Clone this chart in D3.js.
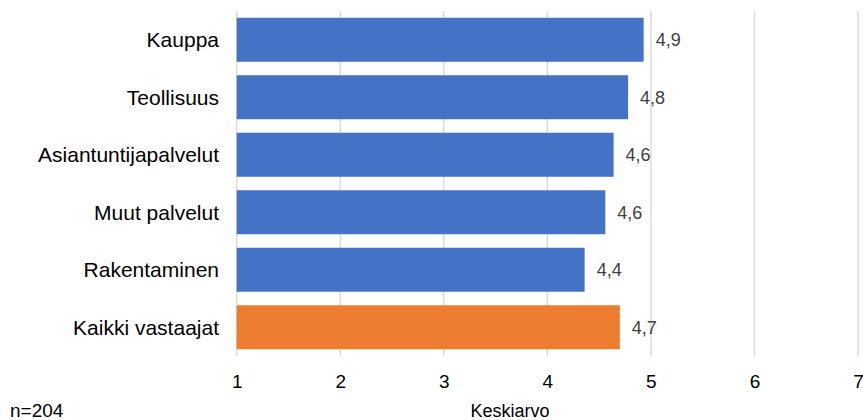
<!DOCTYPE html>
<html>
<head>
<meta charset="utf-8">
<script src="https://cdn.jsdelivr.net/npm/d3@7"></script>
<style>
  html, body { margin: 0; padding: 0; background: #fff; }
  svg { display: block; font-family: Arial, "Liberation Sans", sans-serif; }
</style>
</head>
<body>
<svg id="chart" width="863" height="420"></svg>
<script>
// Mean score by sector
const categories = ["Kauppa", "Teollisuus", "Asiantuntijapalvelut", "Muut palvelut", "Rakentaminen", "Kaikki vastaajat"];
const values = [4.93, 4.78, 4.64, 4.56, 4.36, 4.70];
const highlighted = ["Kaikki vastaajat"];
const xTicks = [1, 2, 3, 4, 5, 6, 7];
const xTitle = "Keskiarvo";
const note = "n=204";

const svg = d3.select("#chart");
const plot = { left: 236.7, right: 858, top: 11, bottom: 356 };

const x = d3.scaleLinear().domain([1, 7]).range([plot.left, plot.right]);
const y = d3.scaleBand().domain(categories).range([plot.top, plot.bottom]).paddingInner(0.235).paddingOuter(0.1175);

// vertical gridlines
svg.append("g").selectAll("line").data(xTicks).join("line")
  .attr("x1", d => x(d)).attr("x2", d => x(d))
  .attr("y1", plot.top).attr("y2", plot.bottom)
  .attr("stroke", "#d9d9d9").attr("stroke-width", 1.4);

// bars
svg.append("g").selectAll("rect").data(categories).join("rect")
  .attr("x", x(1))
  .attr("y", d => y(d))
  .attr("width", (d, i) => x(values[i]) - x(1))
  .attr("height", y.bandwidth())
  .attr("fill", d => highlighted.includes(d) ? "#ED7D31" : "#4472C4");

// value labels
const fmt = v => d3.format(".1f")(v).replace(".", ",");
svg.append("g").selectAll("text").data(categories).join("text")
  .attr("x", (d, i) => x(values[i]) + 12)
  .attr("y", d => y(d) + y.bandwidth() / 2)
  .attr("dy", "0.35em")
  .attr("font-size", 18)
  .attr("fill", "#404040")
  .text((d, i) => fmt(values[i]));

// category labels
svg.append("g").selectAll("text").data(categories).join("text")
  .attr("x", 219)
  .attr("y", d => y(d) + y.bandwidth() / 2)
  .attr("dy", "0.36em")
  .attr("text-anchor", "end")
  .attr("font-size", 21)
  .attr("fill", "#000")
  .text(d => d);

// x axis tick labels
const axis = svg.append("g").attr("transform", `translate(0,${plot.bottom})`)
  .call(d3.axisBottom(x).tickValues(xTicks).tickSize(0).tickPadding(0).tickFormat(d3.format("d")));
axis.select(".domain").remove();
axis.selectAll("text")
  .attr("y", 31.5).attr("dy", null)
  .attr("font-size", 19).attr("fill", "#000")
  .attr("font-family", "Arial, 'Liberation Sans', sans-serif");

// axis title and sample size
svg.append("text").attr("x", 510).attr("y", 417).attr("text-anchor", "middle")
  .attr("font-size", 18).attr("fill", "#000").text(xTitle);
svg.append("text").attr("x", 10).attr("y", 417)
  .attr("font-size", 19).attr("fill", "#000").text(note);
</script>
</body>
</html>
